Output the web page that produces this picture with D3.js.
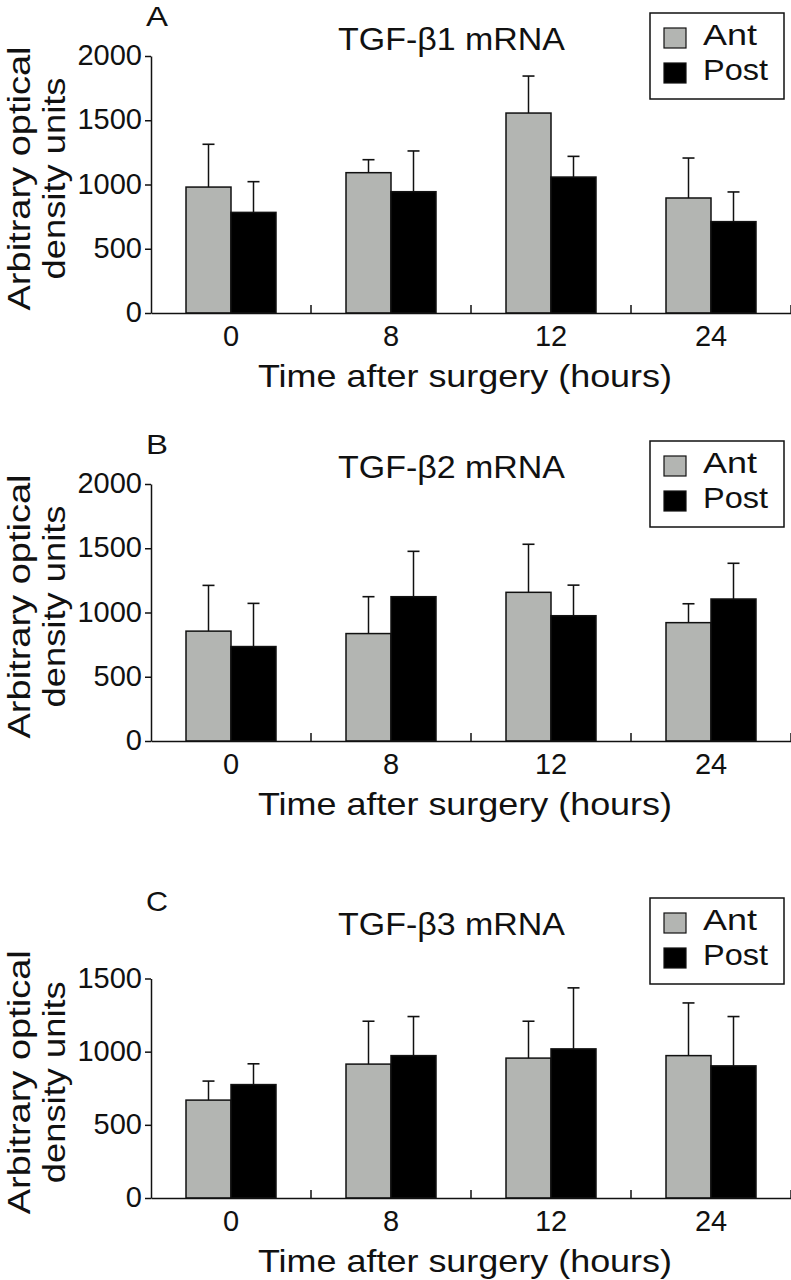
<!DOCTYPE html>
<html>
<head>
<meta charset="utf-8">
<script src="https://cdn.jsdelivr.net/npm/d3@7"></script>
<style>
  html, body { margin: 0; padding: 0; background: #fff; }
  svg { display: block; }
  text { font-family: "Liberation Sans", Arial, Helvetica, sans-serif; fill: #111; }
</style>
</head>
<body>
<svg id="chart" width="791" height="1280"></svg>
<script>
// ---- data ----
const categories = ["0", "8", "12", "24"];
const seriesNames = ["Ant", "Post"];

const antB1 = [980, 1092, 1556, 895];
const antB1Sd = [333, 101, 288, 311];
const postB1 = [783, 944, 1058, 711];
const postB1Sd = [239, 317, 161, 231];

const antB2 = [855, 836, 1157, 921];
const antB2Sd = [356, 287, 374, 147];
const postB2 = [735, 1123, 975, 1105];
const postB2Sd = [336, 353, 238, 278];

const antB3 = [669, 915, 956, 973];
const antB3Sd = [130, 293, 252, 360];
const postB3 = [775, 973, 1019, 903];
const postB3Sd = [142, 267, 417, 337];

const yTicksAB = [0, 500, 1000, 1500, 2000];
const yTicksC = [0, 500, 1000, 1500];

const panelLetters = ["A", "B", "C"];
const panelTitles = ["TGF-\u03B21 mRNA", "TGF-\u03B22 mRNA", "TGF-\u03B23 mRNA"];
const xTitle = "Time after surgery (hours)";
const yTitle1 = "Arbitrary optical";
const yTitle2 = "density units";

// ---- layout ----
const GRAY = "#b3b5b2";
const INK = "#111";
const svg = d3.select("#chart");

const panels = [
  { letter: panelLetters[0], title: panelTitles[0], ant: antB1, antSd: antB1Sd, post: postB1, postSd: postB1Sd, yMax: 2000, ticks: yTicksAB, yTop: 56, dy: 0 },
  { letter: panelLetters[1], title: panelTitles[1], ant: antB2, antSd: antB2Sd, post: postB2, postSd: postB2Sd, yMax: 2000, ticks: yTicksAB, yTop: 56, dy: 428 },
  { letter: panelLetters[2], title: panelTitles[2], ant: antB3, antSd: antB3Sd, post: postB3, postSd: postB3Sd, yMax: 1500, ticks: yTicksC, yTop: 93.5, dy: 885 }
];

const left = 151, right = 791, bottom = 313;

panels.forEach(p => {
  const g = svg.append("g").attr("transform", `translate(0,${p.dy})`);

  const x = d3.scaleBand().domain(categories).range([left, right]).padding(0);
  const x1 = d3.scaleBand().domain(seriesNames).range([35, 125]).padding(0);
  const y = d3.scaleLinear().domain([0, p.yMax]).range([bottom, p.yTop]);

  const rows = categories.map((c, i) => ({
    cat: c,
    vals: [
      { s: "Ant", v: p.ant[i], sd: p.antSd[i] },
      { s: "Post", v: p.post[i], sd: p.postSd[i] }
    ]
  }));

  const grp = g.selectAll("g.grp").data(rows).join("g")
    .attr("class", "grp")
    .attr("transform", d => `translate(${x(d.cat)},0)`);

  // error bars (upper only)
  grp.selectAll("g.err").data(d => d.vals).join("g").attr("class", "err").each(function(d) {
    const cx = x1(d.s) + x1.bandwidth() / 2;
    const e = d3.select(this);
    e.append("line").attr("x1", cx).attr("x2", cx).attr("y1", y(d.v)).attr("y2", y(d.v + d.sd))
      .attr("stroke", INK).attr("stroke-width", 1.5);
    e.append("line").attr("x1", cx - 6).attr("x2", cx + 6).attr("y1", y(d.v + d.sd)).attr("y2", y(d.v + d.sd))
      .attr("stroke", INK).attr("stroke-width", 1.6);
  });

  // bars
  grp.selectAll("rect").data(d => d.vals).join("rect")
    .attr("x", d => x1(d.s))
    .attr("width", x1.bandwidth())
    .attr("y", d => y(d.v))
    .attr("height", d => y(0) - y(d.v))
    .attr("fill", d => d.s === "Ant" ? GRAY : "#000")
    .attr("stroke", INK)
    .attr("stroke-width", 1.5);

  // y axis
  const yAxis = g.append("g").attr("transform", `translate(${left},0)`)
    .call(d3.axisLeft(y).tickValues(p.ticks).tickSize(6).tickSizeOuter(0).tickPadding(3).tickFormat(d3.format("d")));
  yAxis.select(".domain").attr("stroke", INK).attr("stroke-width", 1.5);
  yAxis.selectAll(".tick line").attr("stroke", INK).attr("stroke-width", 1.5);
  yAxis.selectAll(".tick text").attr("font-size", 29).attr("font-family", null).attr("fill", INK).attr("dy", "0.3em");

  // x axis
  const xAxis = g.append("g").attr("transform", `translate(0,${bottom})`)
    .call(d3.axisBottom(x).tickSize(0).tickSizeOuter(0).tickPadding(12));
  xAxis.select(".domain").attr("stroke", INK).attr("stroke-width", 1.5);
  xAxis.selectAll(".tick text").attr("font-size", 29).attr("font-family", null).attr("fill", INK);

  // group separator ticks (inward)
  g.selectAll("line.sep").data(categories).join("line").attr("class", "sep")
    .attr("x1", d => x(d) + x.bandwidth()).attr("x2", d => x(d) + x.bandwidth())
    .attr("y1", bottom).attr("y2", bottom - 8)
    .attr("stroke", INK).attr("stroke-width", 1.5);

  // panel letter
  g.append("text").attr("x", 146).attr("y", 26).attr("font-size", 28)
    .attr("textLength", 22).attr("lengthAdjust", "spacingAndGlyphs").text(p.letter);

  // title
  g.append("text").attr("x", 451.5).attr("y", 50).attr("font-size", 32)
    .attr("text-anchor", "middle").attr("textLength", 227).attr("lengthAdjust", "spacingAndGlyphs")
    .text(p.title);

  // x title
  g.append("text").attr("x", 465).attr("y", 387).attr("font-size", 32)
    .attr("text-anchor", "middle").attr("textLength", 414).attr("lengthAdjust", "spacingAndGlyphs")
    .text(xTitle);

  // y title
  const ymid = (bottom + p.yTop) / 2 - 6;
  g.append("text").attr("transform", `translate(30,${ymid}) rotate(-90)`).attr("font-size", 32)
    .attr("text-anchor", "middle").attr("textLength", 264).attr("lengthAdjust", "spacingAndGlyphs")
    .text(yTitle1);
  g.append("text").attr("transform", `translate(65,${ymid}) rotate(-90)`).attr("font-size", 32)
    .attr("text-anchor", "middle").attr("textLength", 202).attr("lengthAdjust", "spacingAndGlyphs")
    .text(yTitle2);

  // legend
  const lg = g.append("g");
  lg.append("rect").attr("x", 650).attr("y", 13).attr("width", 134).attr("height", 86)
    .attr("fill", "#fff").attr("stroke", INK).attr("stroke-width", 1.5);
  const items = lg.selectAll("g.item").data(seriesNames).join("g").attr("class", "item")
    .attr("transform", (d, i) => `translate(0,${i * 35})`);
  items.append("rect").attr("x", 664).attr("y", 28).attr("width", 22).attr("height", 20)
    .attr("fill", d => d === "Ant" ? GRAY : "#000").attr("stroke", INK).attr("stroke-width", 1.2);
  items.append("text").attr("x", 703).attr("y", 45).attr("font-size", 29)
    .attr("textLength", d => d === "Ant" ? 54 : 65).attr("lengthAdjust", "spacingAndGlyphs")
    .text(d => d);
});
</script>
</body>
</html>
